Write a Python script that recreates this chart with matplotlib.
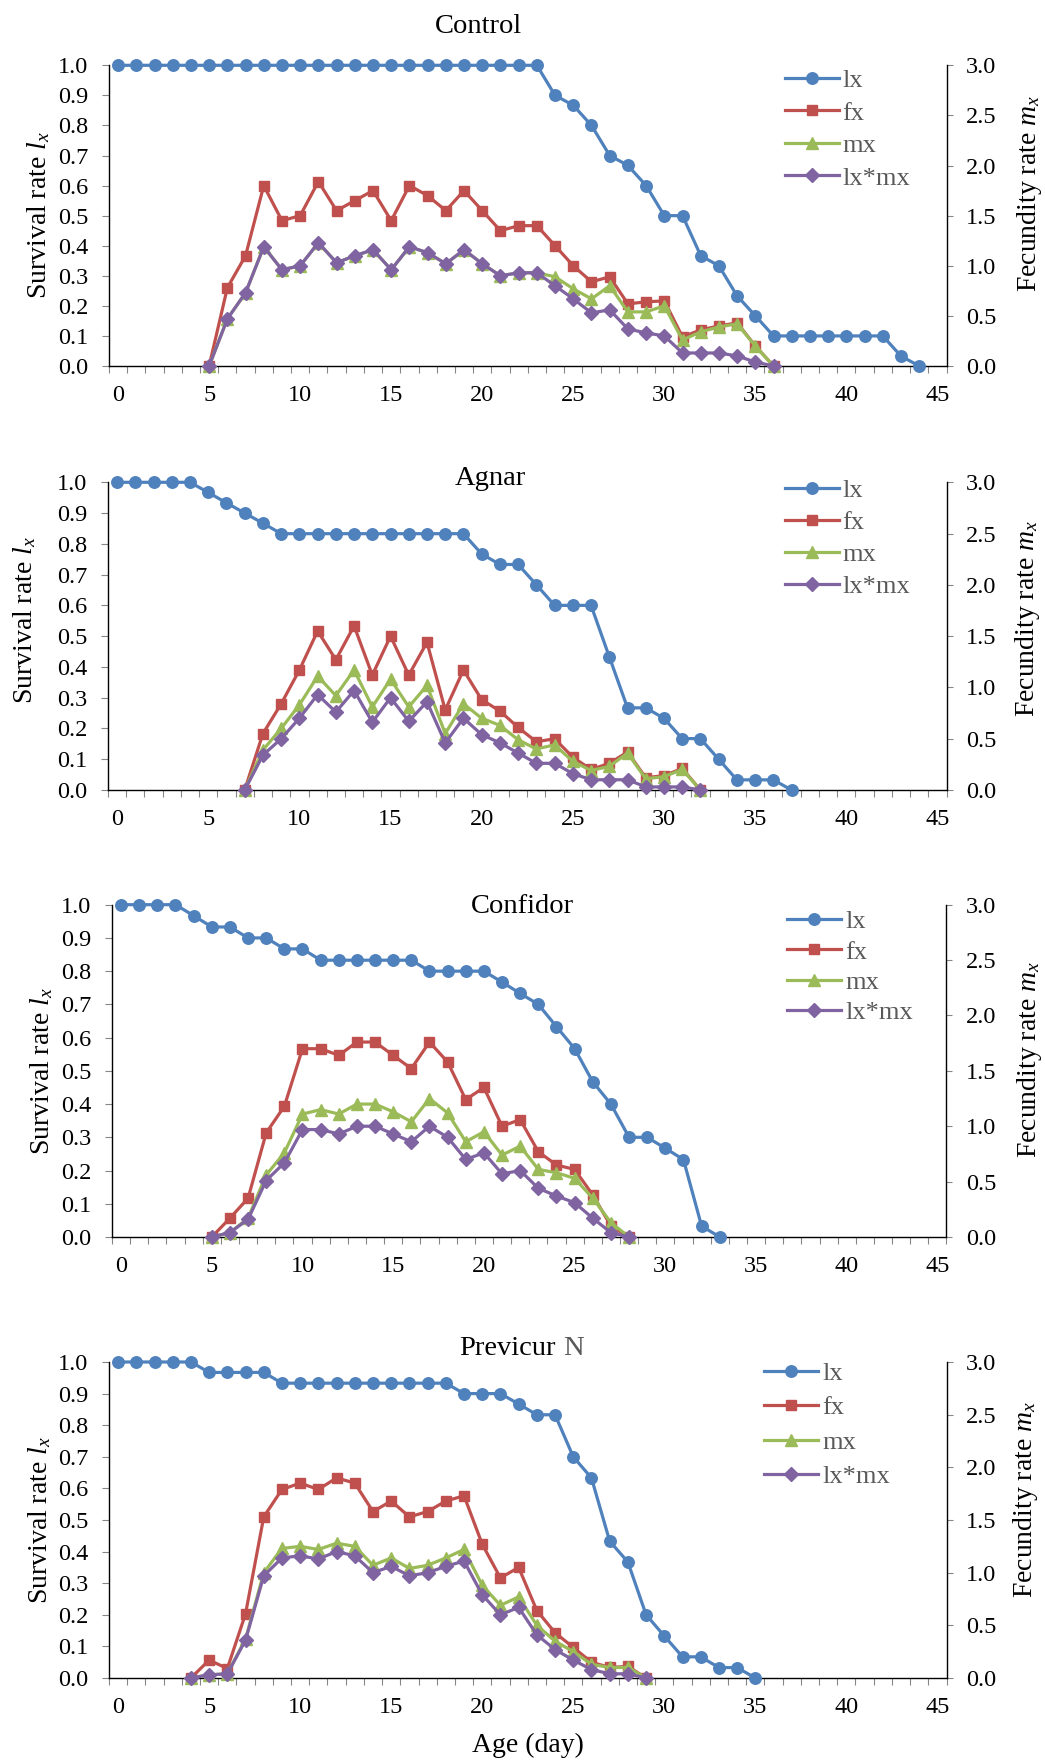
import numpy as np
import matplotlib
matplotlib.use('Agg')
import matplotlib.pyplot as plt

plt.rcParams['font.family'] = ['Liberation Serif', 'DejaVu Serif']
plt.rcParams['mathtext.fontset'] = 'custom'
plt.rcParams['mathtext.rm'] = 'Liberation Serif'
plt.rcParams['mathtext.it'] = 'Liberation Serif:italic'

# ---------------- data ----------------
# Control
ctrl_lx_start = 0
ctrl_lx = [1.0, 1.0, 1.0, 1.0, 1.0, 1.0, 1.0, 1.0, 1.0, 1.0, 1.0, 1.0, 1.0, 1.0, 1.0, 1.0,
           1.0, 1.0, 1.0, 1.0, 1.0, 1.0, 1.0, 1.0, 0.9, 0.867, 0.8, 0.7, 0.667, 0.6, 0.5, 0.5,
           0.367, 0.333, 0.233, 0.167, 0.1, 0.1, 0.1, 0.1, 0.1, 0.1, 0.1, 0.033, 0.0]
ctrl_rep_start = 5
ctrl_fx = [0.0, 0.78, 1.10, 1.80, 1.45, 1.50, 1.84, 1.55, 1.65, 1.75, 1.45, 1.80, 1.70, 1.55,
           1.75, 1.55, 1.35, 1.40, 1.40, 1.20, 1.00, 0.84, 0.89, 0.62, 0.64, 0.65, 0.29, 0.36,
           0.40, 0.43, 0.20, 0.0]
ctrl_mx = [0.0, 0.47, 0.73, 1.19, 0.96, 1.00, 1.23, 1.03, 1.10, 1.16, 0.96, 1.19, 1.13, 1.02,
           1.16, 1.02, 0.90, 0.93, 0.93, 0.89, 0.77, 0.67, 0.80, 0.54, 0.54, 0.60, 0.26, 0.34,
           0.39, 0.42, 0.20, 0.0]
ctrl_lxmx = [0.0, 0.47, 0.73, 1.19, 0.96, 1.00, 1.23, 1.03, 1.10, 1.16, 0.96, 1.19, 1.13, 1.02,
             1.16, 1.02, 0.90, 0.93, 0.93, 0.80, 0.67, 0.53, 0.56, 0.37, 0.33, 0.30, 0.13, 0.13,
             0.13, 0.10, 0.04, 0.0]

# Agnar
agn_lx_start = 0
agn_lx = [1.0, 1.0, 1.0, 1.0, 1.0, 0.967, 0.933, 0.9, 0.867, 0.833, 0.833, 0.833, 0.833, 0.833,
          0.833, 0.833, 0.833, 0.833, 0.833, 0.833, 0.767, 0.733, 0.733, 0.667, 0.6, 0.6, 0.6,
          0.433, 0.267, 0.267, 0.233, 0.167, 0.167, 0.1, 0.033, 0.033, 0.033, 0.0]
agn_rep_start = 7
agn_fx = [0.0, 0.55, 0.84, 1.17, 1.55, 1.27, 1.60, 1.12, 1.50, 1.12, 1.44, 0.78, 1.17, 0.88,
          0.77, 0.61, 0.47, 0.50, 0.32, 0.20, 0.26, 0.37, 0.12, 0.14, 0.21, 0.0]
agn_mx = [0.0, 0.39, 0.60, 0.83, 1.11, 0.92, 1.17, 0.81, 1.08, 0.81, 1.02, 0.55, 0.84, 0.70,
          0.63, 0.49, 0.40, 0.44, 0.28, 0.19, 0.23, 0.36, 0.11, 0.13, 0.20, 0.0]
agn_lxmx = [0.0, 0.34, 0.50, 0.70, 0.93, 0.76, 0.97, 0.66, 0.90, 0.67, 0.86, 0.46, 0.70, 0.54,
            0.46, 0.36, 0.26, 0.26, 0.16, 0.10, 0.10, 0.10, 0.03, 0.03, 0.03, 0.0]

# Confidor
conf_lx_start = 0
conf_lx = [1.0, 1.0, 1.0, 1.0, 0.967, 0.933, 0.933, 0.9, 0.9, 0.867, 0.867, 0.833, 0.833, 0.833,
           0.833, 0.833, 0.833, 0.8, 0.8, 0.8, 0.8, 0.767, 0.733, 0.7, 0.633, 0.567, 0.467, 0.4,
           0.3, 0.3, 0.267, 0.233, 0.033, 0.0]
conf_rep_start = 5
conf_fx = [0.0, 0.17, 0.35, 0.94, 1.18, 1.70, 1.70, 1.64, 1.76, 1.76, 1.64, 1.52, 1.76, 1.58,
           1.24, 1.35, 1.00, 1.06, 0.77, 0.65, 0.61, 0.38, 0.10, 0.0]
conf_mx = [0.0, 0.04, 0.17, 0.56, 0.76, 1.11, 1.15, 1.11, 1.20, 1.20, 1.13, 1.04, 1.25, 1.12,
           0.86, 0.95, 0.74, 0.82, 0.61, 0.58, 0.53, 0.35, 0.13, 0.0]
conf_lxmx = [0.0, 0.04, 0.16, 0.51, 0.67, 0.97, 0.97, 0.93, 1.00, 1.00, 0.93, 0.86, 1.00, 0.90,
             0.70, 0.76, 0.57, 0.60, 0.44, 0.37, 0.31, 0.17, 0.04, 0.0]

# Previcur N
prev_lx_start = 0
prev_lx = [1.0, 1.0, 1.0, 1.0, 1.0, 0.967, 0.967, 0.967, 0.967, 0.933, 0.933, 0.933, 0.933,
           0.933, 0.933, 0.933, 0.933, 0.933, 0.933, 0.9, 0.9, 0.9, 0.867, 0.833, 0.833, 0.7,
           0.633, 0.433, 0.367, 0.2, 0.133, 0.067, 0.067, 0.033, 0.033, 0.0]
prev_rep_start = 4
prev_fx = [0.0, 0.17, 0.09, 0.61, 1.53, 1.79, 1.85, 1.79, 1.90, 1.85, 1.58, 1.68, 1.53, 1.58,
           1.68, 1.73, 1.27, 0.95, 1.05, 0.64, 0.43, 0.29, 0.15, 0.10, 0.11, 0.0]
prev_mx = [0.0, 0.03, 0.04, 0.37, 1.00, 1.23, 1.25, 1.22, 1.28, 1.25, 1.07, 1.14, 1.04, 1.07,
           1.14, 1.22, 0.88, 0.69, 0.77, 0.50, 0.35, 0.25, 0.13, 0.10, 0.10, 0.0]
prev_lxmx = [0.0, 0.03, 0.04, 0.36, 0.97, 1.14, 1.16, 1.13, 1.20, 1.16, 1.00, 1.06, 0.97, 1.00,
             1.06, 1.11, 0.79, 0.60, 0.67, 0.41, 0.27, 0.17, 0.08, 0.04, 0.04, 0.0]

titles = ['Control', 'Agnar', 'Confidor', 'Previcur N']
series_labels = ['lx', 'fx', 'mx', 'lx*mx']
x_ticks = [0, 5, 10, 15, 20, 25, 30, 35, 40, 45]
left_ticks = [0.0, 0.1, 0.2, 0.3, 0.4, 0.5, 0.6, 0.7, 0.8, 0.9, 1.0]
right_ticks = [0.0, 0.5, 1.0, 1.5, 2.0, 2.5, 3.0]

datasets = [
    (ctrl_lx_start, ctrl_lx, ctrl_rep_start, ctrl_fx, ctrl_mx, ctrl_lxmx),
    (agn_lx_start, agn_lx, agn_rep_start, agn_fx, agn_mx, agn_lxmx),
    (conf_lx_start, conf_lx, conf_rep_start, conf_fx, conf_mx, conf_lxmx),
    (prev_lx_start, prev_lx, prev_rep_start, prev_fx, prev_mx, prev_lxmx),
]

# ---------------- layout (pixels) ----------------
W, H = 1045, 1760
RIGHT = 946.5
layout = [
    dict(left=109, top=65.3, bottom=366, title=(478, 33), leg=(784.5, 68.7, 0.34),
         ylab=(39, 215), ylab2=(1029, 193)),
    dict(left=108, top=482.3, bottom=790, title=(490, 485), leg=(784.5, 478.7, 0.32),
         ylab=(25, 620), ylab2=(1027, 618)),
    dict(left=112, top=904.7, bottom=1237, title=(522, 912.7), leg=(787, 909.7, 0.26),
         ylab=(42, 1071), ylab2=(1029, 1059)),
    dict(left=109, top=1362, bottom=1678, title=(510, 1355), leg=(764, 1361.7, 0.41),
         ylab=(40, 1520), ylab2=(1025, 1499)),
]

colors = ['#4F81BD', '#C0504D', '#9BBB59', '#8064A2']
markers = ['o', 's', '^', 'D']
msizes = [8.3, 7.8, 8.8, 7.3]
TICK_COLOR = '#868686'

fig = plt.figure(figsize=(W / 100, H / 100), dpi=100)


def fxp(px):
    return px / W


def fyp(py):
    return 1 - py / H


for i, (data, lay) in enumerate(zip(datasets, layout)):
    lx_start, lx, rep_start, fx, mx, lxmx = data
    ax = fig.add_axes([fxp(lay['left']), fyp(lay['bottom']),
                       (RIGHT - lay['left']) / W, (lay['bottom'] - lay['top']) / H])
    ax2 = ax.twinx()

    lx_days = np.arange(lx_start, lx_start + len(lx))
    rep_days = np.arange(rep_start, rep_start + len(fx))

    handles = []
    h, = ax.plot(lx_days, lx, color=colors[0], lw=2.3, marker=markers[0], ms=msizes[0],
                 mec=colors[0], mfc=colors[0], clip_on=False, zorder=3)
    handles.append(h)
    for k, vals in enumerate([fx, mx, lxmx], start=1):
        h, = ax2.plot(rep_days, vals, color=colors[k], lw=2.3, marker=markers[k], ms=msizes[k],
                      mec=colors[k], mfc=colors[k], clip_on=False, zorder=3 + k)
        handles.append(h)

    ax.set_xlim(-0.5, 45.5)
    ax.set_ylim(0, 1)
    ax2.set_ylim(0, 3)

    for a in (ax, ax2):
        a.spines['top'].set_visible(False)
    ax.spines['right'].set_visible(False)
    ax2.spines['left'].set_visible(False)
    ax2.spines['bottom'].set_visible(False)
    for s in ('left', 'bottom'):
        ax.spines[s].set_linewidth(1.0)
    ax2.spines['right'].set_linewidth(1.0)

    ax.set_yticks(left_ticks)
    ax.set_yticklabels([f'{v:.1f}' for v in left_ticks])
    ax2.set_yticks(right_ticks)
    ax2.set_yticklabels([f'{v:.1f}' for v in right_ticks])
    ax.tick_params(axis='y', direction='out', length=4.8, width=0.8, color=TICK_COLOR,
                   pad=10.3, labelsize=17.5)
    ax2.tick_params(axis='y', direction='out', length=4.5, width=0.8, color=TICK_COLOR,
                    pad=9.5, labelsize=17.5)

    ax.set_xticks(x_ticks)
    ax.set_xticklabels([str(v) for v in x_ticks])
    ax.set_xticks(np.arange(-0.5, 46, 1), minor=True)
    ax.tick_params(axis='x', which='major', length=0, pad=13.5, labelsize=17.5)
    ax.tick_params(axis='x', which='minor', length=5, width=0.8, color=TICK_COLOR,
                   direction='out')

    # titles
    if i < 3:
        fig.text(fxp(lay['title'][0]), fyp(lay['title'][1]), titles[i], ha='center',
                 va='baseline', fontsize=20.5, color='black')
    else:
        fig.text(fxp(555.7), fyp(lay['title'][1]), 'Previcur', ha='right', va='baseline',
                 fontsize=20.5, color='black')
        fig.text(fxp(563), fyp(lay['title'][1]), 'N', ha='left', va='baseline',
                 fontsize=20.5, color='#595959')

    # axis labels
    fig.text(fxp(lay['ylab'][0]), fyp(lay['ylab'][1]), 'Survival rate $l_x$', rotation=90,
             ha='center', va='center', fontsize=20)
    fig.text(fxp(lay['ylab2'][0]), fyp(lay['ylab2'][1]), 'Fecundity rate $m_x$', rotation=90,
             ha='center', va='center', fontsize=20)

    # legend
    lgx, lgy, lsp = lay['leg']
    ax2.legend(handles, series_labels, loc='upper left', bbox_to_anchor=(fxp(lgx), fyp(lgy)),
               bbox_transform=fig.transFigure, frameon=False, borderpad=0, borderaxespad=0,
               handlelength=2.05, handletextpad=0.15, labelspacing=lsp, fontsize=19,
               labelcolor='#595959', numpoints=1)

fig.text(fxp(527.5), fyp(1752), 'Age (day)', ha='center', va='baseline', fontsize=20)

fig.savefig('out.png', dpi=100)
